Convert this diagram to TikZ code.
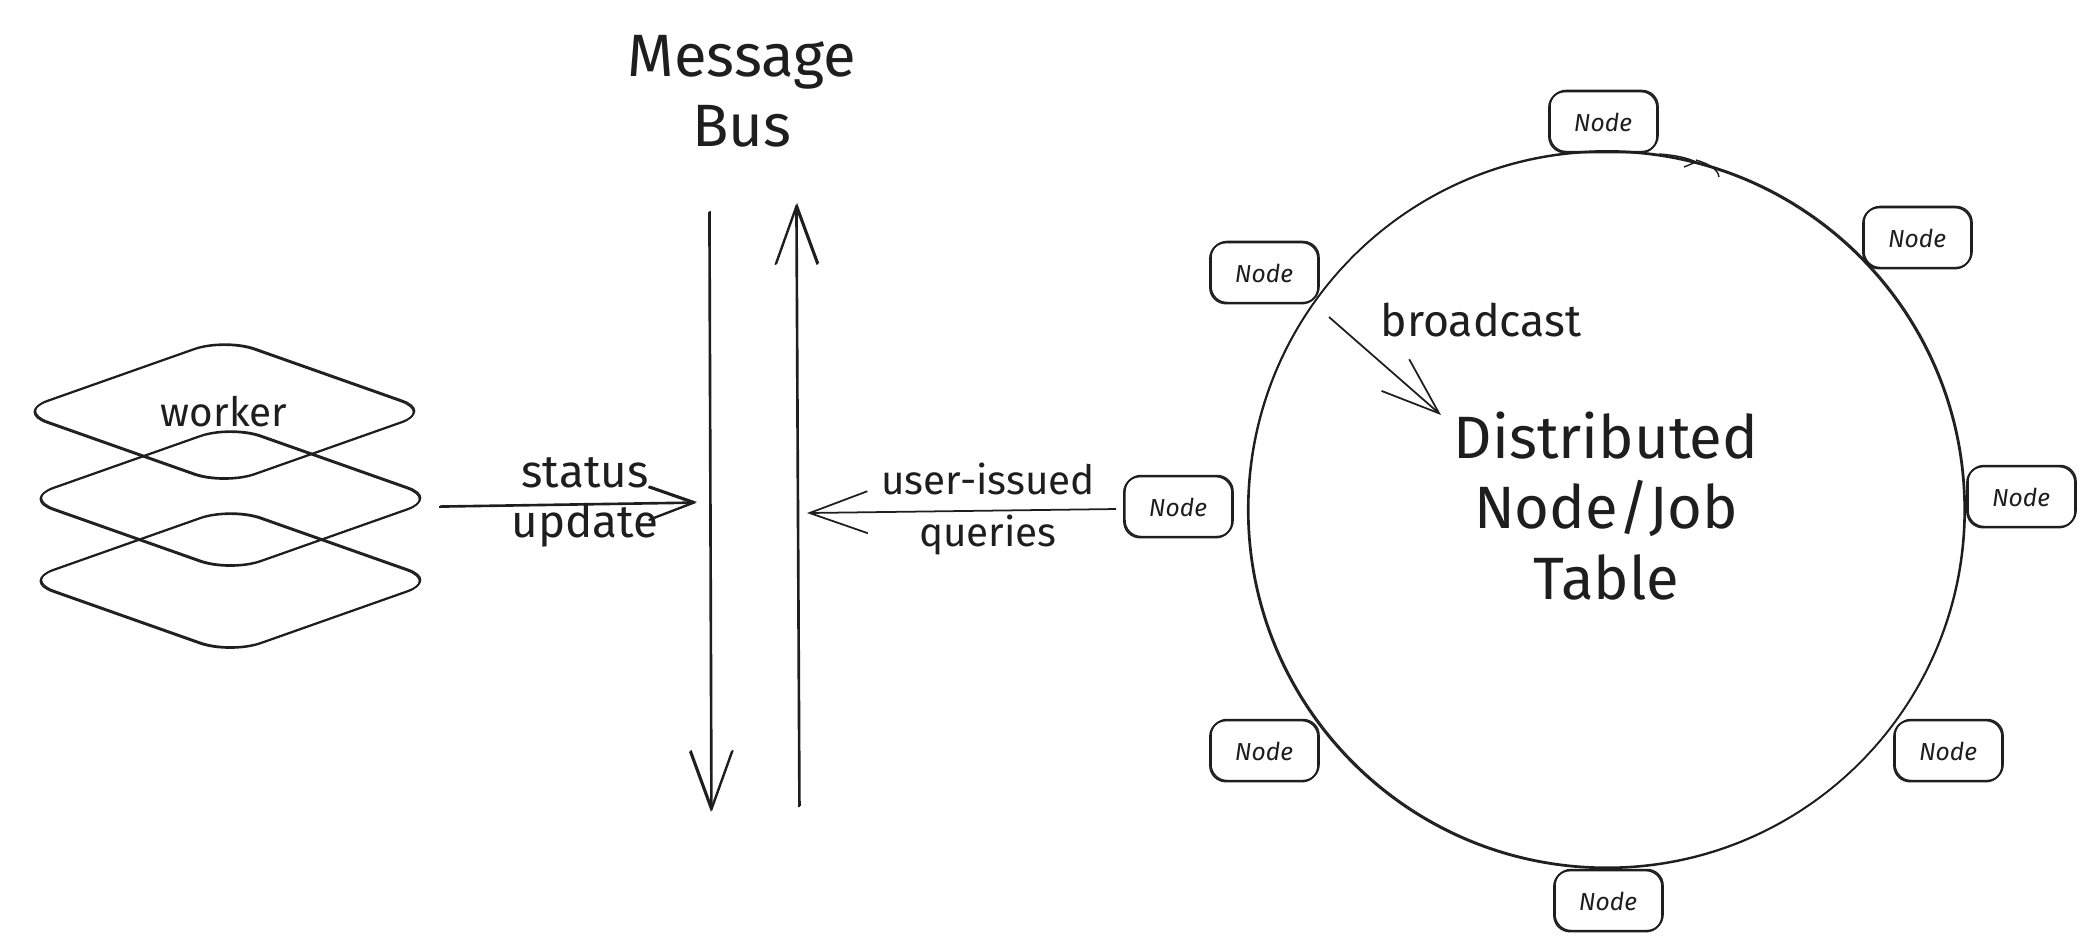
\documentclass[tikz,border=0pt]{standalone}
\usepackage{fontspec}
\setmainfont{Fira Sans}
\usetikzlibrary{arrows.meta,shapes.geometric}
\definecolor{ink}{HTML}{1E1E1E}
\tikzset{
  rough/.style={draw=ink,line width=.5pt,preaction={draw=ink,line width=.4pt,transform canvas={shift={(.3pt,.3pt)}}}},
  worker/.style={shape=diamond,rough,shape aspect=2.9,minimum width=4.15cm,minimum height=1.47cm,inner sep=0pt,rounded corners=.32cm,font=\fontsize{11.5}{14}\selectfont,text=ink},
  member/.style={rough,rounded corners=.16cm,minimum width=1.08cm,minimum height=.61cm,inner sep=0pt,font=\itshape\fontsize{7}{9}\selectfont,text=ink},
  biglabel/.style={align=center,text=ink,font=\fontsize{17}{20}\selectfont},
  midlabel/.style={align=center,text=ink,font=\fontsize{11.5}{14.8}\selectfont},
  tipsmall/.style={-{Straight Barb[length=.45cm,width=.33cm,line width=.5pt]}},
  tiplarge/.style={-{Straight Barb[length=.58cm,width=.42cm,line width=.5pt]}}
}
\begin{document}
\begin{tikzpicture}[x=.01cm,y=-.01cm]
\useasboundingbox (0,0) rectangle (2095,950);
\node[biglabel] (busname) at (742,91) {Message\\Bus};
\node[worker] (workertop) at (224,412) {worker};
\node[worker] (workermid) at (230,499) {};
\node[worker] (workerlow) at (230,581) {};
\node[midlabel,font=\fontsize{13}{14.2}\selectfont] (statuslabel) at (585,502) {status\\update};
\node[midlabel] (querylabel) at (988,509) {user-issued\\queries};
\node[rough,shape=circle,minimum size=7.16cm,inner sep=0pt] (jobtable) at (1606,510) {};
\node[biglabel] (tablename) at (1606,506) {Distributed\\Node/Job\\Table};
\node[midlabel,font=\fontsize{12.7}{15}\selectfont] (castlabel) at (1481,320) {broadcast};
\node[member] (nodetop) at (1603,122) {Node};
\node[member] (nodene) at (1917,238) {Node};
\node[member] (nodenw) at (1264,273) {Node};
\node[member] (nodew) at (1178,507) {Node};
\node[member] (nodee) at (2021,497) {Node};
\node[member] (nodesw) at (1264,751) {Node};
\node[member] (nodese) at (1948,751) {Node};
\node[member] (nodes) at (1608,901) {Node};
\coordinate (statustail) at (439,507);
\coordinate (statustip) at (696,503);
\coordinate (downtail) at (709,212);
\coordinate (downtip) at (711,812);
\coordinate (uptail) at (799,807);
\coordinate (uptip) at (796,204);
\coordinate (querytail) at (1116,509);
\coordinate (querytip) at (807,513);
\coordinate (casttail) at (1329,317);
\coordinate (casttip) at (1441,415);
\draw[rough,tipsmall] (statustail) -- (statustip);
\draw[rough,tiplarge] (downtail) -- (downtip);
\draw[rough,tiplarge] (uptail) -- (uptip);
\draw[draw=ink,line width=.5pt,tiplarge] (querytail) -- (querytip);
\draw[draw=ink,line width=.5pt,tiplarge] (casttail) -- (casttip);
\draw[draw=ink,line width=.4pt] (1659,154) .. controls (1675,155) and (1688,158) .. (1696,162) -- (1684,167);
\draw[draw=ink,line width=.4pt] (1696,160) .. controls (1706,163) and (1718,168) .. (1719,177);
\end{tikzpicture}
\end{document}
